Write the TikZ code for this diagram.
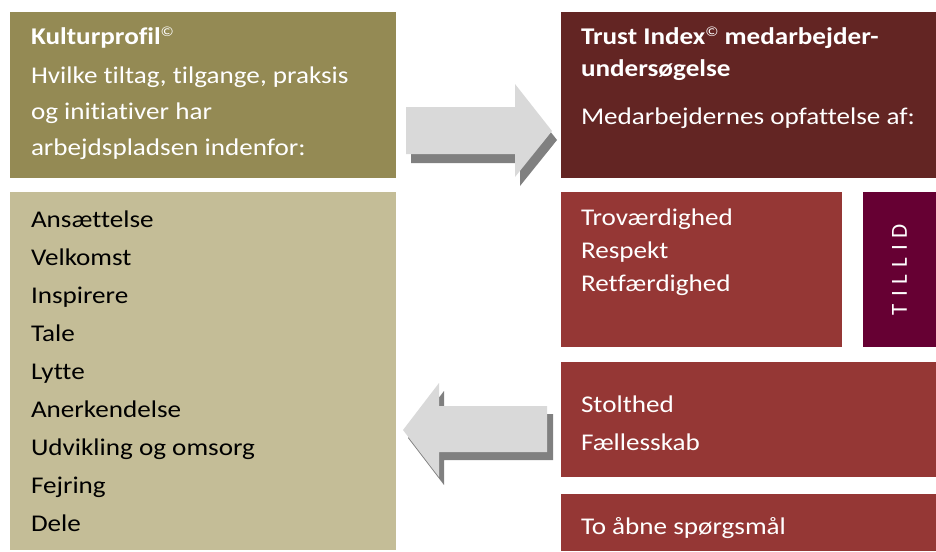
\documentclass[tikz,border=0pt]{standalone}
\usepackage{fontspec}
\setmainfont{Carlito}[FakeStretch=1.13, Ligatures=NoCommon]
\newfontfamily\plainfont{Carlito}[Ligatures=NoCommon]
\definecolor{olivebox}{HTML}{948A54}
\definecolor{tanbox}{HTML}{C4BD97}
\definecolor{darkred}{HTML}{632523}
\definecolor{redbox}{HTML}{953735}
\definecolor{tillidc}{HTML}{660033}
\definecolor{arrowc}{HTML}{D9D9D9}
\definecolor{shadowc}{HTML}{808080}
\begin{document}
\begin{tikzpicture}[x=1pt,y=-1pt,
  box/.style={anchor=north west, inner sep=0pt, outer sep=0pt, draw=none},
  txt/.style={anchor=base west, inner sep=0pt, outer sep=0pt, font=\fontsize{24}{28}\selectfont},
  wtxt/.style={txt, text=white},
  btxt/.style={txt, text=black}]
\useasboundingbox (0,0) rectangle (936,551);
% boxes
\node[box, fill=olivebox, minimum width=386pt, minimum height=166pt] (kp) at (10,12) {};
\node[box, fill=tanbox, minimum width=386pt, minimum height=358pt] (list) at (10,192) {};
\node[box, fill=darkred, minimum width=375pt, minimum height=166pt] (ti) at (561,12) {};
\node[box, fill=redbox, minimum width=281pt, minimum height=155pt] (r1) at (561,192) {};
\node[box, fill=tillidc, minimum width=73pt, minimum height=155pt] (tillid) at (863,192) {};
\node[box, fill=redbox, minimum width=375pt, minimum height=115pt] (r2) at (561,362) {};
\node[box, fill=redbox, minimum width=375pt, minimum height=57pt] (r3) at (561,494) {};
% arrows (shadow then body)
\fill[shadowc] (411,116) -- (520,116) -- (520,93) -- (557,140) -- (520,186) -- (520,163) -- (411,163) -- cycle;
\fill[arrowc] (406,107) -- (515,107) -- (515,84) -- (552,131) -- (515,177) -- (515,154) -- (406,154) -- cycle;
\fill[shadowc] (553,414) -- (444,414) -- (444,391) -- (408,438) -- (444,485) -- (444,460) -- (553,460) -- cycle;
\fill[arrowc] (547,406) -- (439,406) -- (439,383) -- (403,430) -- (439,477) -- (439,452) -- (547,452) -- cycle;
% top-left texts
\node[wtxt] (kpt) at (31,45) {\textbf{Kulturprofil}\raisebox{8pt}{\fontsize{14}{14}\selectfont\copyright}};
\node[wtxt] (kpa) at (31,83) {Hvilke tiltag, tilgange, praksis};
\node[wtxt] (kpb) at (31,119) {og initiativer har};
\node[wtxt] (kpc) at (31,155) {arbejdspladsen indenfor:};
% list
\foreach \t [count=\i from 0] in {Ansættelse,Velkomst,Inspirere,Tale,Lytte,Anerkendelse,Udvikling og omsorg,Fejring,Dele}
  \node[btxt] (li\i) at (31,227+38*\i) {\t};
% top-right texts
\node[wtxt] (tit) at (581,45) {\textbf{Trust Index}\raisebox{8pt}{\fontsize{14}{14}\selectfont\copyright}\textbf{ medarbejder-}};
\node[wtxt] (tib) at (581,77) {\textbf{undersøgelse}};
\node[wtxt] (tic) at (581,124) {Medarbejdernes opfattelse af:};
% rows
\node[wtxt] (r1a) at (581,225) {Troværdighed};
\node[wtxt] (r1b) at (581,258.3) {Respekt};
\node[wtxt] (r1c) at (581,291.7) {Retfærdighed};
\node[wtxt] (r2a) at (581,412) {Stolthed};
\node[wtxt] (r2b) at (581,450) {Fællesskab};
\node[wtxt] (r3a) at (581,534) {To åbne spørgsmål};
% TILLID
\node[text=white, rotate=90, inner sep=0pt, font=\plainfont\fontsize{23}{28}\selectfont] (tl) at (tillid.center)
  {T\hspace{7pt}I\hspace{7pt}L\hspace{7pt}L\hspace{7pt}I\hspace{7pt}D};
\end{tikzpicture}
\end{document}
